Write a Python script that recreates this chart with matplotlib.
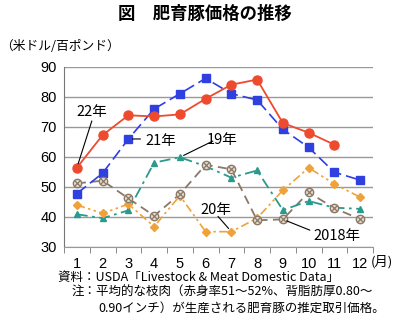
import numpy as np
import matplotlib.pyplot as plt

plt.rcParams['font.family'] = ['Noto Sans CJK JP', 'DejaVu Sans']

months = list(range(1, 13))
month_labels = [str(m) for m in months]

# 米ドル/百ポンド
y2018 = [51.2, 52.1, 46.2, 40.4, 47.6, 57.4, 55.9, 38.9, 39.2, 48.2, 42.9, 39.3]
y2019 = [40.9, 39.6, 42.2, 58.1, 59.9, 56.9, 53.1, 55.5, 42.3, 45.3, 43.1, 42.7]
y2020 = [44.0, 41.2, 44.3, 36.8, 47.1, 35.1, 35.1, 39.6, 48.9, 56.4, 51.0, 46.6]
y2021 = [47.8, 54.6, 66.0, 76.0, 81.1, 86.2, 81.1, 79.0, 69.2, 63.2, 54.9, 52.3]
y2022 = [56.4, 67.3, 73.9, 73.5, 74.2, 79.4, 84.1, 85.8, 71.3, 68.1, 64.1]

fig = plt.figure(figsize=(4.0, 3.22), dpi=100)
ax = fig.add_axes([0.16, 0.233, 0.7725, 0.559])

# 2018
ax.plot(months, y2018, color='#8a7868', lw=1.3, dashes=(5, 3), zorder=3)
ax.plot(months, y2018, ls='none', marker='o', ms=6, mfc='#e6dccd', mec='#8a7868', mew=1, zorder=4)
ax.plot(months, y2018, ls='none', marker='x', ms=4, mec='#8a7868', mew=0.9, zorder=5)
# 2019
ax.plot(months, y2019, color='#2a9a8c', lw=1.3, dashes=(6, 2.5, 1.5, 2.5),
        marker='^', ms=5, zorder=3)
# 2020
ax.plot(months, y2020, color='#f0a23a', lw=1.2, dashes=(5, 2, 1.5, 2, 1.5, 2),
        marker='D', ms=4, zorder=3)
# 2021
ax.plot(months, y2021, color='#2f3fe0', lw=1.2, dashes=(7, 3),
        marker='s', ms=6, zorder=3)
# 2022
ax.plot(months[:len(y2022)], y2022, color='#ee4a2e', lw=1.3,
        marker='o', ms=6.5, zorder=3)

ax.set_xlim(0.5, 12.5)
ax.set_ylim(30, 90)
ax.set_yticks(np.arange(30, 91, 10))
ax.set_xticks(months)
ax.set_xticklabels(month_labels)
ax.set_xticks(np.arange(0.5, 12.6, 1), minor=True)
ax.tick_params(axis='x', which='major', length=0, pad=7, labelsize=10.5)
ax.tick_params(axis='x', which='minor', length=4, color='#777777', direction='out')
ax.tick_params(axis='y', length=0, pad=5, labelsize=10.5)
for t in ax.get_xticklabels() + ax.get_yticklabels():
    t.set_fontfamily('Liberation Sans')
ax.grid(axis='y', color='#999999', lw=1)
for s in ['top', 'right']:
    ax.spines[s].set_visible(False)
ax.spines['left'].set_color('#777777')
ax.spines['bottom'].set_color('#999999')

# series labels: text + leader line (line start, target point)
labels = [
    ('22年', (1.57, 75.0), (1.58, 72.0), (1, y2022[0])),
    ('21年', (4.25, 65.4), (3.47, 66.0), (3, y2021[2])),
    ('19年', (6.65, 65.7), (6.28, 65.3), (5, y2019[4])),
    ('20年', (6.4, 42.4), (6.48, 40.2), (7, y2020[6])),
    ('2018年', (11.1, 33.8), (10.05, 35.6), (9, y2018[8])),
]
for txt, tpos, lstart, target in labels:
    ax.text(tpos[0], tpos[1], txt, ha='center', va='center', fontsize=10.5, zorder=6)
    ax.annotate('', xy=target, xytext=lstart,
                arrowprops=dict(arrowstyle='-', color='black', lw=0.8,
                                shrinkA=0, shrinkB=3), zorder=6)

fig.text(0.512, 0.958, '図　肥育豚価格の推移', ha='center', va='center',
         fontsize=12.5, fontweight='bold')
fig.text(0.0, 0.857, '（米ドル/百ポンド）', ha='left', va='center', fontsize=9.2)
fig.text(0.926, 0.188, '(月)', ha='left', va='center', fontsize=9.5)
fig.text(0.145, 0.139, '資料：USDA「Livestock & Meat Domestic Data」', ha='left',
         va='center', fontsize=9)
fig.text(0.18, 0.091, '注：平均的な枝肉（赤身率51～52%、背脂肪厚0.80～', ha='left',
         va='center', fontsize=9)
fig.text(0.245, 0.042, '0.90インチ）が生産される肥育豚の推定取引価格。', ha='left',
         va='center', fontsize=9)

fig.savefig('out.png', dpi=100)
